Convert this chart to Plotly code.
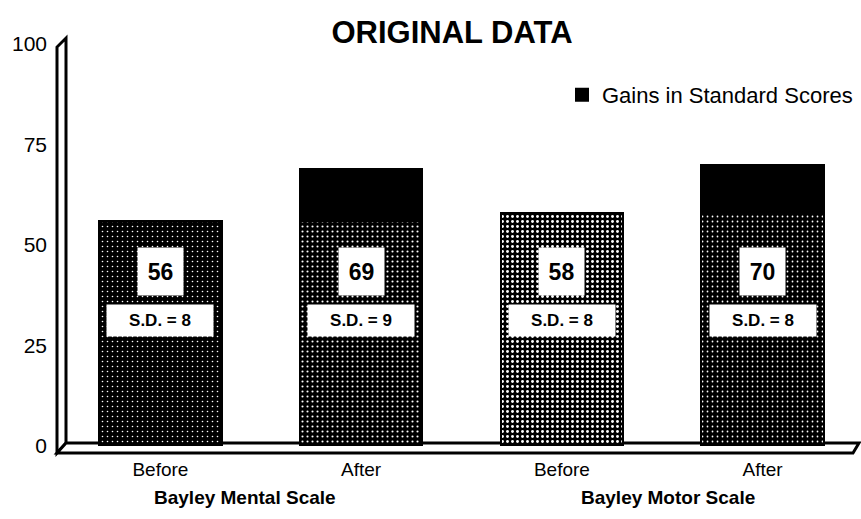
import plotly.graph_objects as go

# ---- data ----
positions = [0, 1, 2, 3]
tick_labels = ["Before", "After", "Before", "After"]
scales = ["Bayley Mental Scale", "Bayley Motor Scale"]
before_scores = [56, 58]          # Mental, Motor
after_scores = [69, 70]           # Mental, Motor
sd_values = [8, 9, 8, 8]          # Before/After for each scale
y_ticks = [0, 25, 50, 75, 100]

# derived series
base_values = [before_scores[0], before_scores[0], before_scores[1], before_scores[1]]
gain_values = [0, after_scores[0] - before_scores[0], 0, after_scores[1] - before_scores[1]]
total_values = [before_scores[0], after_scores[0], before_scores[1], after_scores[1]]

FONT = "Liberation Sans, Arial, Helvetica, sans-serif"

fig = go.Figure()
fig.add_trace(go.Bar(
    x=positions, y=base_values, width=0.61, showlegend=False,
    marker=dict(color="black", line=dict(color="black", width=2),
                pattern=dict(shape=".", fillmode="replace", bgcolor="black",
                             fgcolor="white", size=5,
                             solidity=[0.08, 0.14, 0.26, 0.1])),
    hoverinfo="skip"))
fig.add_trace(go.Bar(
    x=positions, y=gain_values, width=0.61, name="Gains in Standard Scores",
    marker=dict(color="black", line=dict(color="black", width=2)),
    hoverinfo="skip"))

# value + SD labels in white boxes
for xi, v, sd in zip(positions, total_values, sd_values):
    fig.add_annotation(x=xi, y=43.3, xref="x", yref="y", text=f"<b>{v}</b>", showarrow=False,
                       width=43, height=45, bgcolor="white",
                       font=dict(family=FONT, size=23, color="black"))
    fig.add_annotation(x=xi, y=31.3, xref="x", yref="y", text=f"<b>S.D. = {sd}</b>",
                       showarrow=False, width=104, height=29, bgcolor="white",
                       font=dict(family=FONT, size=17, color="black"))

# group labels
for gx, name in zip([0.42, 2.53], scales):
    fig.add_annotation(x=gx, y=-0.127, xref="x", yref="paper", text=f"<b>{name}</b>",
                       showarrow=False, yanchor="middle",
                       font=dict(family=FONT, size=19, color="black"))

# 3D wall and floor decorations (paper coords)
def px(xp):
    return (xp - 60) / 801
def py(yp):
    return (446 - yp) / 402

wall = (f"M {px(57)},{py(453)} L {px(57)},{py(47)} L {px(66)},{py(38)} "
        f"L {px(66)},{py(443)} Z")
floor = (f"M {px(57)},{py(453)} L {px(66)},{py(443)} L {px(859)},{py(443)} "
         f"L {px(853)},{py(453)} Z")
fig.add_shape(type="path", path=wall, xref="paper", yref="paper", layer="below",
              fillcolor="white", line=dict(color="black", width=3))
fig.add_shape(type="path", path=floor, xref="paper", yref="paper", layer="below",
              fillcolor="white", line=dict(color="black", width=3))

fig.update_layout(
    width=861, height=519,
    margin=dict(l=60, r=0, t=44, b=73, autoexpand=False),
    paper_bgcolor="white", plot_bgcolor="white",
    barmode="stack",
    title=dict(text="<b>ORIGINAL DATA</b>", x=452 / 861, xanchor="center",
               y=1 - 32 / 519, yanchor="middle",
               font=dict(family=FONT, size=31, color="black")),
    font=dict(family=FONT, color="black"),
    legend=dict(x=px(562), y=py(95), xanchor="left", yanchor="middle",
                bgcolor="rgba(0,0,0,0)", font=dict(family=FONT, size=22),
                itemwidth=30),
    xaxis=dict(range=[-0.5, 3.49], tickvals=positions, ticktext=tick_labels,
               showline=False, showgrid=False, zeroline=False, ticks="",
               tickfont=dict(family=FONT, size=19), ticklabelstandoff=10),
    yaxis=dict(range=[0, 100], tickvals=y_ticks, showline=False, showgrid=False,
               zeroline=False, ticks="", tickfont=dict(family=FONT, size=21),
               ticklabelstandoff=12),
)

fig.write_html("out.html", config={"displayModeBar": False},
               post_script="document.body.style.margin='0';")
